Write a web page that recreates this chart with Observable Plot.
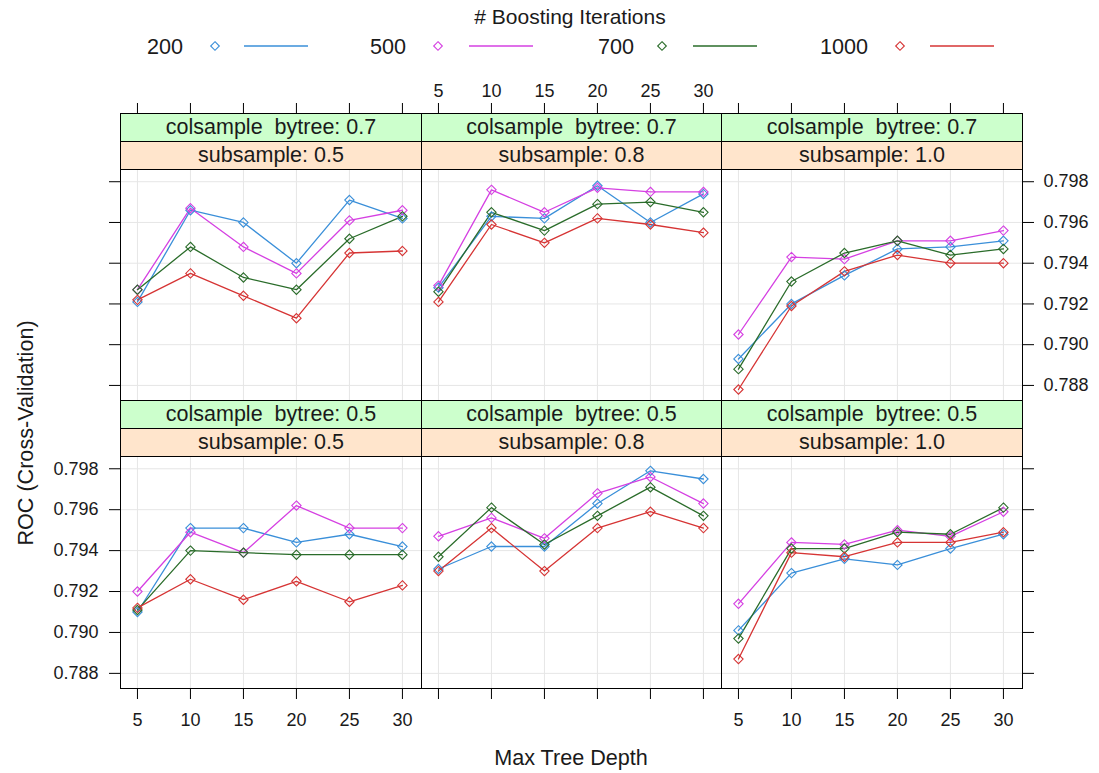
<!DOCTYPE html>
<html>
<head>
<meta charset="utf-8">
<script src="https://cdn.jsdelivr.net/npm/d3@7"></script>
<script src="https://cdn.jsdelivr.net/npm/@observablehq/plot@0.6"></script>
<style>
  body { margin: 0; background: #fff; }
  #chart { position: relative; width: 1099px; height: 773px; overflow: hidden; background: #fff;
           font-family: "Liberation Sans", Arial, Helvetica, sans-serif; }
  #chart svg { position: absolute; }
  .strip { position: absolute; box-sizing: border-box; border: 1px solid #000; overflow: hidden;
           text-align: center; font-size: 21.5px; color: #1a1a1a; white-space: nowrap; }
  .strip.outer { background: #ccffcc; }
  .strip.inner { background: #ffe5cc; }
  .hidden-char { color: transparent; }
</style>
</head>
<body>
<div id="chart"></div>
<script>
// xgboost tuning grid: cross-validated ROC by tree depth, boosting rounds,
// column sampling (rows of panels) and row subsampling (columns of panels)
const depth = [5, 10, 15, 20, 25, 30];
const iterations = [200, 500, 700, 1000];
const colsample = [0.7, 0.5];
const subsample = ["0.5", "0.8", "1.0"];
const rocTicks = [0.788, 0.790, 0.792, 0.794, 0.796, 0.798];
const iterColors = ["#3a8fd9", "#d540e2", "#2a6c2a", "#d63434"];

// one row per boosting-iteration count (200, 500, 700, 1000), one value per depth
const roc_c07_s05 = [
  [0.7921, 0.7966, 0.7960, 0.7940, 0.7971, 0.7962],
  [0.7927, 0.7967, 0.7948, 0.7935, 0.7961, 0.7966],
  [0.7927, 0.7948, 0.7933, 0.7927, 0.7952, 0.7963],
  [0.7922, 0.7935, 0.7924, 0.7913, 0.7945, 0.7946]
];
const roc_c07_s08 = [
  [0.7928, 0.7963, 0.7962, 0.7978, 0.7960, 0.7974],
  [0.7929, 0.7976, 0.7965, 0.7977, 0.7975, 0.7975],
  [0.7926, 0.7965, 0.7956, 0.7969, 0.7970, 0.7965],
  [0.7921, 0.7959, 0.7950, 0.7962, 0.7959, 0.7955]
];
const roc_c07_s10 = [
  [0.7893, 0.7920, 0.7934, 0.7947, 0.7948, 0.7951],
  [0.7905, 0.7943, 0.7942, 0.7951, 0.7951, 0.7956],
  [0.7888, 0.7931, 0.7945, 0.7951, 0.7944, 0.7947],
  [0.7878, 0.7919, 0.7936, 0.7944, 0.7940, 0.7940]
];
const roc_c05_s05 = [
  [0.7910, 0.7951, 0.7951, 0.7944, 0.7948, 0.7942],
  [0.7920, 0.7949, 0.7939, 0.7962, 0.7951, 0.7951],
  [0.7911, 0.7940, 0.7939, 0.7938, 0.7938, 0.7938],
  [0.7912, 0.7926, 0.7916, 0.7925, 0.7915, 0.7923]
];
const roc_c05_s08 = [
  [0.7931, 0.7942, 0.7942, 0.7963, 0.7979, 0.7975],
  [0.7947, 0.7956, 0.7946, 0.7968, 0.7976, 0.7963],
  [0.7937, 0.7961, 0.7943, 0.7957, 0.7971, 0.7957],
  [0.7930, 0.7951, 0.7930, 0.7951, 0.7959, 0.7951]
];
const roc_c05_s10 = [
  [0.7901, 0.7929, 0.7936, 0.7933, 0.7941, 0.7948],
  [0.7914, 0.7944, 0.7943, 0.7950, 0.7947, 0.7959],
  [0.7897, 0.7941, 0.7941, 0.7949, 0.7948, 0.7961],
  [0.7887, 0.7939, 0.7937, 0.7944, 0.7944, 0.7949]
];

const panels = [
  [roc_c07_s05, roc_c07_s08, roc_c07_s10],
  [roc_c05_s05, roc_c05_s08, roc_c05_s10]
];

// layout of the trellis
const FONT = '"Liberation Sans", Arial, Helvetica, sans-serif';
const panelLeft = [120, 421, 721], panelW = [301, 300, 301];
const panelTop = [169, 456], panelH = [231, 232];
const stripH = 28;
const mL = 110, mR = 80, mT = 100, mB = 50;
const fmt = d3.format(".3f");
const chart = document.getElementById("chart");

panels.forEach((row, r) => row.forEach((vals, c) => {
  const data = iterations.flatMap((it, i) =>
    depth.map((d, j) => ({depth: d, roc: vals[i][j], iter: String(it)})));
  // the middle column is one pixel narrower; keep the same units per pixel
  const xDomain = c === 1 ? [3.4, 31.8 - 28.4 / 301] : [3.4, 31.8];

  const marks = [
    Plot.gridX(depth, {stroke: "#e6e6e6", strokeOpacity: 1}),
    Plot.gridY(rocTicks, {stroke: "#e6e6e6", strokeOpacity: 1}),
    Plot.line(data, {x: "depth", y: "roc", z: "iter", stroke: "iter", strokeWidth: 1.3}),
    Plot.dot(data, {x: "depth", y: "roc", stroke: "iter", symbol: "diamond2", r: 4.2, strokeWidth: 1.1}),
    Plot.frame({stroke: "#000"})
  ];
  // alternating axes: labels on one side, bare ticks on the other
  if (r === 0) marks.push(Plot.axisX(depth, {anchor: "top", dy: -2 * stripH, tickSize: 11, tickPadding: 6,
    label: null, stroke: "#000", fill: c === 1 ? "#1a1a1a" : "none"}));
  if (r === 1) marks.push(Plot.axisX(depth, {anchor: "bottom", tickSize: 11, tickPadding: 14,
    label: null, stroke: "#000", fill: c !== 1 ? "#1a1a1a" : "none"}));
  if (c === 0) marks.push(Plot.axisY(rocTicks, {anchor: "left", tickSize: 11, tickPadding: 11,
    label: null, tickFormat: fmt, stroke: "#000", fill: r === 1 ? "#1a1a1a" : "none"}));
  if (c === 2) marks.push(Plot.axisY(rocTicks, {anchor: "right", tickSize: 11, tickPadding: 10,
    label: null, tickFormat: fmt, stroke: "#000", fill: r === 0 ? "#1a1a1a" : "none"}));

  const svg = Plot.plot({
    width: panelW[c] + mL + mR,
    height: panelH[r] + mT + mB,
    marginLeft: mL, marginRight: mR, marginTop: mT, marginBottom: mB,
    x: {domain: xDomain, axis: null},
    y: {domain: [0.78726, 0.7986], axis: null},
    color: {type: "ordinal", domain: iterations.map(String), range: iterColors},
    style: {background: "transparent", fontSize: "18px", fontFamily: FONT, overflow: "visible",
            maxWidth: "none", color: "#000"},
    marks
  });
  svg.style.left = (panelLeft[c] - mL) + "px";
  svg.style.top = (panelTop[r] - mT) + "px";
  chart.appendChild(svg);

  // strips: outer factor (colsample_bytree) above inner factor (subsample)
  const outer = document.createElement("div");
  outer.className = "strip outer";
  Object.assign(outer.style, {left: panelLeft[c] + "px", width: (panelW[c] + 1) + "px",
    top: (panelTop[r] - 2 * stripH) + "px", height: (stripH + 1) + "px", lineHeight: (stripH - 1) + "px"});
  outer.innerHTML = `colsample<span class="hidden-char">_</span>bytree: ${colsample[r]}`;
  chart.appendChild(outer);

  const inner = document.createElement("div");
  inner.className = "strip inner";
  Object.assign(inner.style, {left: panelLeft[c] + "px", width: (panelW[c] + 1) + "px",
    top: (panelTop[r] - stripH) + "px", height: (stripH + 1) + "px", lineHeight: (stripH - 1) + "px"});
  inner.textContent = `subsample: ${subsample[c]}`;
  chart.appendChild(inner);
}));

// titles and key
const over = d3.select(chart).append("svg")
  .attr("width", 1099).attr("height", 773)
  .style("left", "0px").style("top", "0px")
  .style("font-family", FONT).style("pointer-events", "none");

over.append("text").attr("x", 571).attr("y", 765).attr("text-anchor", "middle")
  .attr("font-size", 21.6).attr("fill", "#1a1a1a").text("Max Tree Depth");

over.append("text").attr("transform", "translate(33,433) rotate(-90)").attr("text-anchor", "middle")
  .attr("font-size", 21.6).attr("fill", "#1a1a1a").text("ROC (Cross-Validation)");

over.append("text").attr("x", 570).attr("y", 24).attr("text-anchor", "middle")
  .attr("font-size", 21).attr("fill", "#1a1a1a").text("# Boosting Iterations");

const keyLabelRight = [183, 406, 634, 868];
const keyDiamond = [215, 438, 662, 900];
const keyLine = [[244, 308], [469, 533], [693, 757], [930, 994]];
const keyY = 46;
const diamond = d3.symbol(d3.symbolDiamond2, 48);
iterations.forEach((it, i) => {
  over.append("text").attr("x", keyLabelRight[i]).attr("y", keyY + 7.5).attr("text-anchor", "end")
    .attr("font-size", 21.6).attr("fill", "#1a1a1a").text(String(it));
  over.append("path").attr("d", diamond()).attr("transform", `translate(${keyDiamond[i]},${keyY})`)
    .attr("fill", "none").attr("stroke", iterColors[i]).attr("stroke-width", 1.1);
  over.append("line").attr("x1", keyLine[i][0]).attr("x2", keyLine[i][1]).attr("y1", keyY).attr("y2", keyY)
    .attr("stroke", iterColors[i]).attr("stroke-width", 1.5);
});
</script>
</body>
</html>
